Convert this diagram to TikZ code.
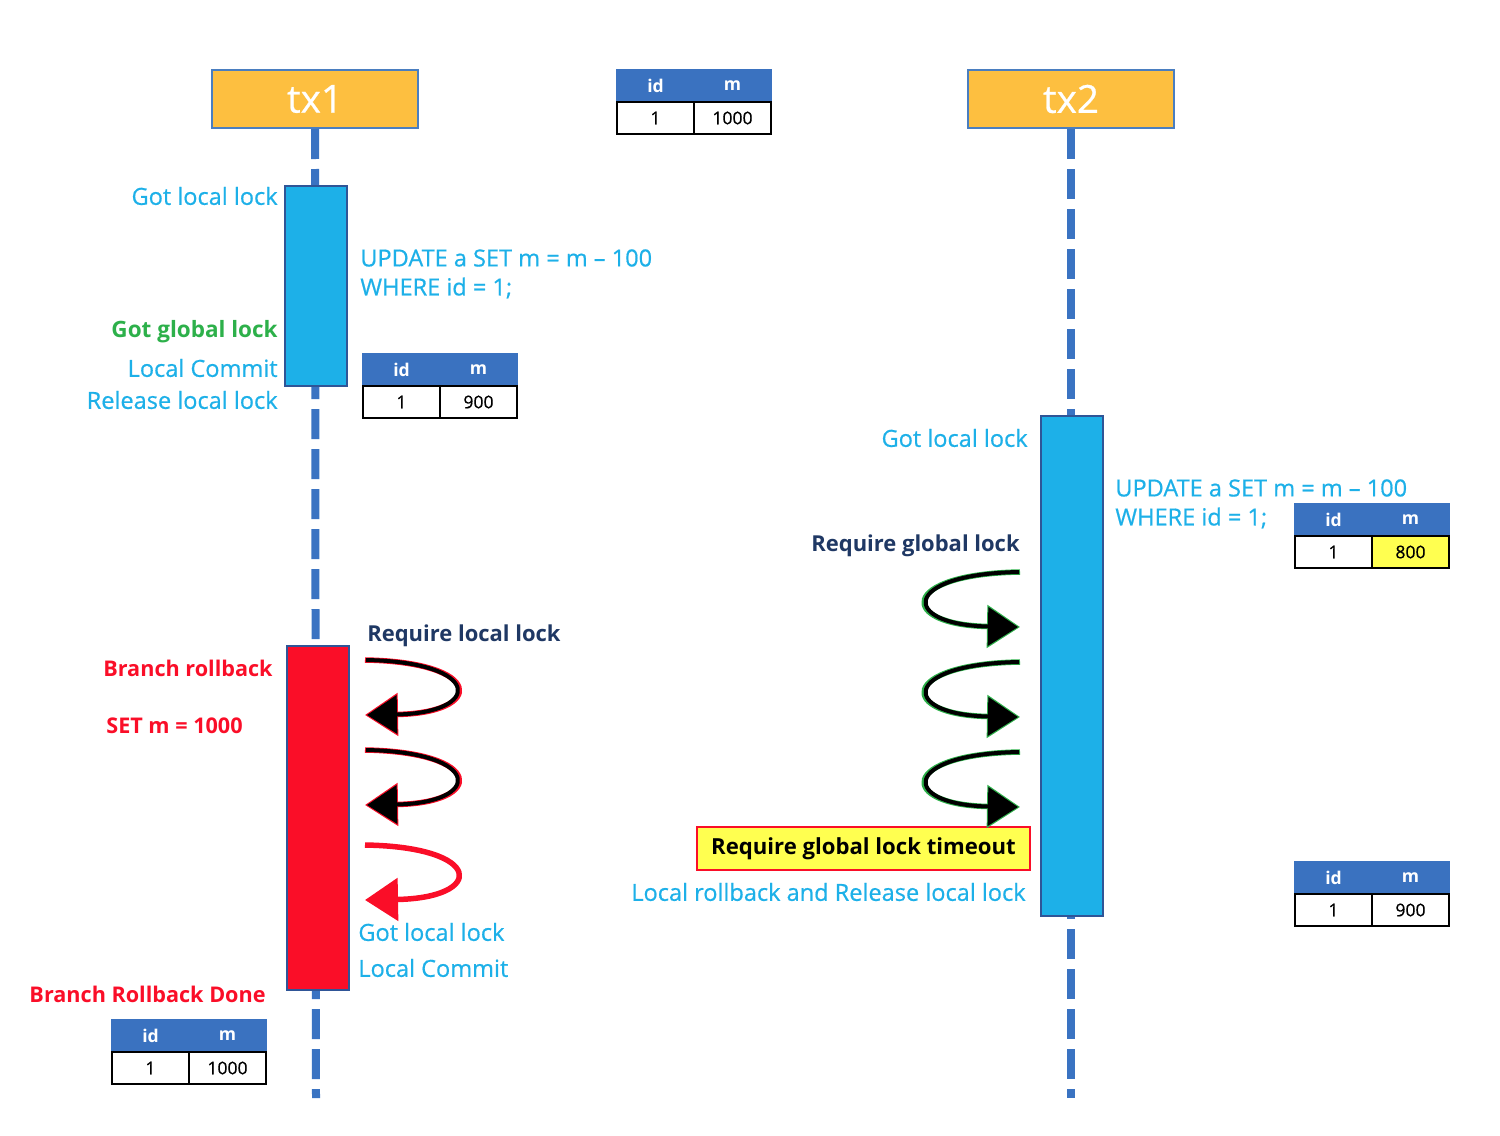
\documentclass[tikz,border=0pt]{standalone}
\usepackage{fontspec}
\setmainfont{Open Sans}
\newfontfamily\medfont[FakeBold=0.6]{Open Sans}
\usepackage{xcolor}
\usetikzlibrary{arrows.meta,positioning}
\definecolor{txOrange}{RGB}{253,191,64}
\definecolor{boxBlue}{RGB}{74,126,192}
\definecolor{lifeBlue}{RGB}{58,115,194}
\definecolor{barCyan}{RGB}{29,176,232}
\definecolor{barEdge}{RGB}{47,85,151}
\definecolor{lockRed}{RGB}{250,14,40}
\definecolor{lockGreen}{RGB}{45,176,74}
\definecolor{lockNavy}{RGB}{31,56,100}
\definecolor{headBlue}{RGB}{58,114,192}
\definecolor{cellYellow}{RGB}{255,255,80}

\tikzset{
  lifeline/.style={line width=1.6mm, lifeBlue, dash pattern=on 6mm off 2mm},
  txbox/.style={draw=boxBlue, line width=0.4mm, fill=txOrange, minimum width=41.2mm, minimum height=11.6mm, text=white, font=\medfont\fontsize{22}{26}\selectfont},
  actbar/.style={draw=barEdge, line width=0.4mm, minimum width=12.4mm, outer sep=0pt, inner sep=0pt},
  thead/.style={draw=headBlue, fill=headBlue, line width=0.4mm, minimum width=15.4mm, minimum height=6.4mm, text=white, font=\bfseries\fontsize{10}{12}\selectfont, outer sep=0pt, inner sep=0pt},
  tcell/.style={draw=black, fill=white, line width=0.4mm, minimum width=15.4mm, minimum height=6.4mm, text=black, font=\medfont\fontsize{10}{12}\selectfont, outer sep=0pt, inner sep=0pt},
  cyanlbl/.style={text=barCyan, font=\medfont\fontsize{13.4}{15}\selectfont, inner sep=0pt},
  greenlbl/.style={text=lockGreen, font=\bfseries\fontsize{12.8}{15}\selectfont, inner sep=0pt},
  redlbl/.style={text=lockRed, font=\bfseries\fontsize{12.3}{15}\selectfont, inner sep=0pt},
  navylbl/.style={text=lockNavy, font=\bfseries\fontsize{12.5}{15}\selectfont, inner sep=0pt},
  spin/.style={line width=1.1mm, -{Triangle[length=6.6mm,width=8.4mm]}},
  spincore/.style={line width=0.8mm, black, -{Triangle[length=6mm,width=7.6mm]}}
}

\begin{document}
\begin{tikzpicture}[x=0.2mm,y=-0.2mm]
\useasboundingbox (0,0) rectangle (1500,1136);

% transactions and lifelines
\node[txbox] (tx1) at (315,99) {tx1};
\node[txbox] (tx2) at (1071,99) {tx2};
\coordinate (tx1end) at (316,1098);
\coordinate (tx2end) at (1071,1098);
\draw[lifeline] (tx1.south) -- (tx1end);
\draw[lifeline] (tx2.south) -- (tx2end);

% activation bars
\node[actbar, fill=barCyan, minimum height=40mm] (bar1) at (316,286) {};
\node[actbar, fill=lockRed, minimum height=68.8mm] (bar2) at (318,818) {};
\node[actbar, fill=barCyan, minimum height=100mm] (bar3) at (1072,666) {};

% tables
\foreach \n/\x/\y/\v/\c in {t0/617/70/1000/white, t1/363/354/900/white, t2/1295/504/800/cellYellow, t3/1295/862/900/white, t4/112/1020/1000/white}{
  \node[thead, anchor=north west] (\n-id) at (\x,\y) {id};
  \node[thead, right=0pt of \n-id] (\n-m) {m};
  \node[tcell, below=0pt of \n-id] (\n-k) {1};
  \node[tcell, fill=\c, below=0pt of \n-m] (\n-v) {\v};
}

% tx1 labels
\node[cyanlbl, anchor=east] (g1) at (278,196) {Got local lock};
\node[cyanlbl, anchor=west] (u1) at (360,258) {UPDATE a SET m = m – 100};
\node[cyanlbl, anchor=west] (w1) at (360,288) {WHERE id = 1;};
\node[greenlbl, anchor=east] (gg1) at (278,332) {Got global lock};
\node[cyanlbl, anchor=east] (lc1) at (278,368) {Local Commit};
\node[cyanlbl, anchor=east] (rl1) at (278,400) {Release local lock};
\node[navylbl, anchor=west] (rq1) at (367,636) {Require local lock};
\node[redlbl, anchor=east] (br1) at (273,668) {Branch rollback};
\node[redlbl, anchor=west] (sm1) at (106,726) {SET m = 1000};
\node[cyanlbl, anchor=west] (g2) at (358,932) {Got local lock};
\node[cyanlbl, anchor=west] (lc2) at (358,968) {Local Commit};
\node[redlbl, anchor=east] (bd1) at (266,994) {Branch Rollback Done};

% tx2 labels
\node[cyanlbl, anchor=east] (g3) at (1028,438) {Got local lock};
\node[cyanlbl, anchor=west] (u2) at (1115,488) {UPDATE a SET m = m – 100};
\node[cyanlbl, anchor=west] (w2) at (1115,518) {WHERE id = 1;};
\node[navylbl, anchor=east] (rq2) at (1020,546) {Require global lock};
\node[draw=lockRed, line width=0.4mm, fill=cellYellow, minimum width=66.6mm, minimum height=8.6mm, font=\bfseries\fontsize{12.6}{15}\selectfont] (tmo) at (863.5,848.5) {Require global lock timeout};
\node[cyanlbl, anchor=east] (lr2) at (1026,892) {Local rollback and Release local lock};

% waiting for local lock
\foreach \y in {660,750}{
  \draw[spin, lockRed] (365,\y) .. controls (485,\y+2) and (485,\y+53) .. (365,\y+55);
  \draw[spincore] (366,\y) .. controls (483,\y+2) and (483,\y+53) .. (367,\y+55);
}
\draw[spin, lockRed] (365,845) .. controls (485,847) and (485,898) .. (365,900);

% waiting for global lock
\foreach \y in {572,662,752}{
  \draw[spin, lockGreen] (1020,\y) .. controls (898,\y+2) and (898,\y+53) .. (1020,\y+55);
  \draw[spincore] (1019,\y) .. controls (900,\y+2) and (900,\y+53) .. (1018,\y+55);
}
\end{tikzpicture}
\end{document}
